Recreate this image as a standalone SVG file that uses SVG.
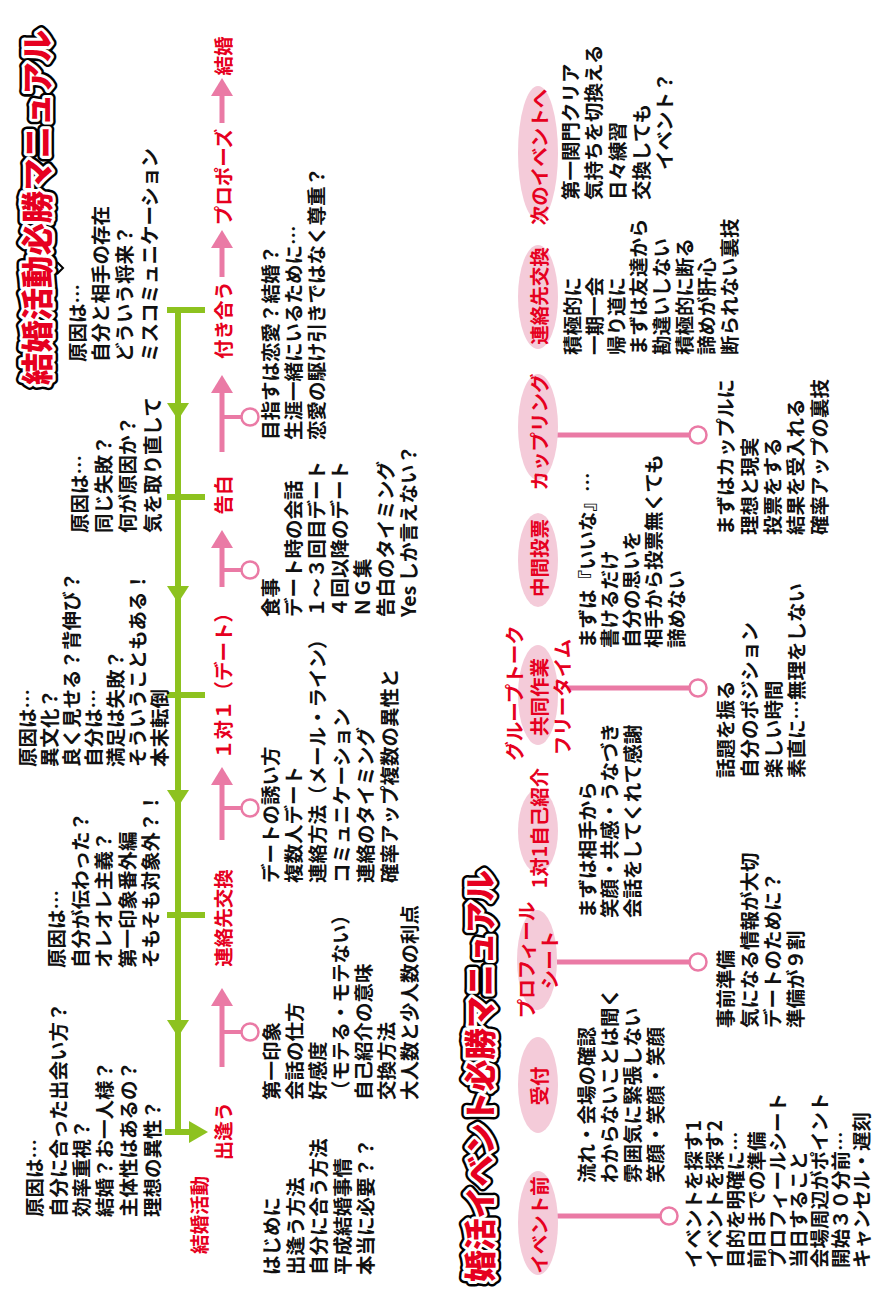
<svg xmlns="http://www.w3.org/2000/svg" width="884" height="1303" viewBox="0 0 884 1303">
<style>
.t{font-family:"Noto Sans CJK JP","Noto Sans",sans-serif;font-size:19.5px;font-weight:700;fill:#111;dominant-baseline:central}
.r{fill:#e60020}
.m{text-anchor:middle}
.ttl{font-family:"Noto Sans CJK JP","Noto Sans",sans-serif;font-size:32px;font-weight:900;dominant-baseline:central}
.o1{fill:#000;stroke:#000;stroke-width:11;stroke-linejoin:round}
.o2{fill:#fff;stroke:#fff;stroke-width:6;stroke-linejoin:round}
.o3{fill:#e60020}
.g{stroke:#8dc21f;stroke-width:6;fill:none}
.gh{fill:#8dc21f}
.p{stroke:#ea7aa5;stroke-width:5;fill:none}
.pb{stroke:#ea7aa5;stroke-width:4;fill:none}
.ph{fill:#ea7aa5}
.c{fill:#fff;stroke:#ea7aa5;stroke-width:2.5}
.e{fill:#f4cbd9}
</style>
<defs>
<text id="title1" class="ttl" x="918" y="35" textLength="355" lengthAdjust="spacingAndGlyphs">結婚活動必勝マニュアル</text>
<text id="title2" class="ttl" x="21" y="478" textLength="412" lengthAdjust="spacingAndGlyphs">婚活イベント必勝マニュアル</text>
</defs>
<rect width="884" height="1303" fill="#fff"/>
<g transform="translate(0,1303) rotate(-90)">

<g id="title-main">
<use href="#title1" class="o1"/><use href="#title1" class="o2"/><use href="#title1" class="o3"/>
<path d="M1041,57 L1035,63 L1029,57" fill="none" stroke="#000" stroke-width="2"/>
</g>
<g id="title-event">
<use href="#title2" class="o1"/><use href="#title2" class="o2"/><use href="#title2" class="o3"/>
</g>

<g id="connectors">
<path class="g" d="M993,178 L171,178 M171,165 L171,192 M993,167 L993,205 M806,167 L806,205 M608,167 L608,205 M388,167 L388,205"/>
<polygon class="gh" points="171,208 160,189 182,189"/>
<polygon class="gh" points="883,178 900,167 900,189"/>
<polygon class="gh" points="700,178 717,167 717,189"/>
<polygon class="gh" points="496,178 513,167 513,189"/>
<polygon class="gh" points="266,178 283,167 283,189"/>
<path class="p" d="M1180,222 L1209,222 M1026,222 L1057,222 M851,222 L912,222 M716,222 L757,222 M463,222 L520,222 M236,222 L299,222"/>
<polygon class="ph" points="1225,222 1207,211 1207,233"/>
<polygon class="ph" points="1073,222 1055,211 1055,233"/>
<polygon class="ph" points="928,222 910,211 910,233"/>
<polygon class="ph" points="773,222 755,211 755,233"/>
<polygon class="ph" points="536,222 518,211 518,233"/>
<polygon class="ph" points="315,222 297,211 297,233"/>
<path class="pb" d="M886,222 L886,242 M733,222 L733,242 M495,222 L495,242 M271,222 L271,242"/>
<circle class="c" cx="886" cy="250" r="8.5"/>
<circle class="c" cx="733" cy="250" r="8.5"/>
<circle class="c" cx="495" cy="250" r="8.5"/>
<circle class="c" cx="271" cy="250" r="8.5"/>
<path class="p" d="M87,557 L87,661 M341,557 L341,690 M615,567 L615,690 M868,557 L868,690"/>
<circle class="c" cx="87" cy="669" r="8.5"/>
<circle class="c" cx="341" cy="698" r="8.5"/>
<circle class="c" cx="615" cy="698" r="8.5"/>
<circle class="c" cx="868" cy="698" r="8.5"/>
</g>

<g id="n-start">
<text class="t r m" x="88" y="198">結婚活動</text>
<text class="t" x="86" y="33">原因は…</text>
<text class="t" x="86" y="57">自分に合った出会い方？</text>
<text class="t" x="86" y="80">効率重視？</text>
<text class="t" x="86" y="103">結婚？お一人様？</text>
<text class="t" x="86" y="127">主体性はあるの？</text>
<text class="t" x="86" y="151">理想の異性？</text>
<text class="t" x="28" y="270">はじめに</text>
<text class="t" x="28" y="294">出逢う方法</text>
<text class="t" x="28" y="317">自分に合う方法</text>
<text class="t" x="28" y="341">平成結婚事情</text>
<text class="t" x="28" y="364">本当に必要？？</text>
</g>

<g id="n-deau">
<text class="t r m" x="172" y="222">出逢う</text>
<text class="t" x="203" y="270">第一印象</text>
<text class="t" x="203" y="293">会話の仕方</text>
<text class="t" x="203" y="316">好感度</text>
<text class="t" x="203" y="339">（モテる・モテない）</text>
<text class="t" x="203" y="362">自己紹介の意味</text>
<text class="t" x="203" y="385">交換方法</text>
<text class="t" x="203" y="408">大人数と少人数の利点</text>
</g>

<g id="n-renraku">
<text class="t r m" x="385" y="222">連絡先交換</text>
<text class="t" x="335" y="55">原因は…</text>
<text class="t" x="335" y="79">自分が伝わった？</text>
<text class="t" x="335" y="102">オレオレ主義？</text>
<text class="t" x="335" y="126">第一印象番外編</text>
<text class="t" x="335" y="149">そもそも対象外？！</text>
<text class="t" x="420" y="269">デートの誘い方</text>
<text class="t" x="420" y="292">複数人デート</text>
<text class="t" x="420" y="316">連絡方法（メール・ライン）</text>
<text class="t" x="420" y="340">コミュニケーション</text>
<text class="t" x="420" y="364">連絡のタイミング</text>
<text class="t" x="420" y="388">確率アップ複数の異性と</text>
</g>

<g id="n-date">
<text class="t r m" x="622" y="222">１対１（デート）</text>
<text class="t" x="536" y="26">原因は…</text>
<text class="t" x="536" y="48">異文化？</text>
<text class="t" x="536" y="70">良く見せる？背伸び？</text>
<text class="t" x="536" y="92">自分は…</text>
<text class="t" x="536" y="114">満足は失敗？</text>
<text class="t" x="536" y="136">そういうこともある！</text>
<text class="t" x="536" y="158">本末転倒</text>
<text class="t" x="686" y="269">食事</text>
<text class="t" x="686" y="292">デート時の会話</text>
<text class="t" x="686" y="315">１～３回目デート</text>
<text class="t" x="686" y="338">４回以降のデート</text>
<text class="t" x="686" y="361">ＮＧ集</text>
<text class="t" x="686" y="384">告白のタイミング</text>
<text class="t" x="686" y="407">Yes しか言えない？</text>
</g>

<g id="n-kokuhaku">
<text class="t r m" x="808" y="222">告白</text>
<text class="t" x="770" y="78">原因は…</text>
<text class="t" x="770" y="102">同じ失敗？</text>
<text class="t" x="770" y="126">何が原因か？</text>
<text class="t" x="770" y="151">気を取り直して</text>
<text class="t" x="863" y="269">目指すは恋愛？結婚？</text>
<text class="t" x="863" y="292">生涯一緒にいるために…</text>
<text class="t" x="863" y="315">恋愛の駆け引きではなく尊重？</text>
</g>

<g id="n-tsukiau">
<text class="t r m" x="983" y="222">付き合う</text>
<text class="t" x="941" y="76">原因は…</text>
<text class="t" x="941" y="99">自分と相手の存在</text>
<text class="t" x="941" y="123">どういう将来？</text>
<text class="t" x="941" y="148">ミスコミュニケーション</text>
</g>

<g id="n-propose">
<text class="t r m" x="1126" y="222">プロポーズ</text>
</g>

<g id="n-kekkon">
<text class="t r m" x="1247" y="222">結婚</text>
</g>

<g id="e-mae">
<ellipse class="e" cx="80" cy="538" rx="52" ry="20"/>
<text class="t r m" x="78" y="538">イベント前</text>
<text class="t" x="35" y="692">イベントを探す1</text>
<text class="t" x="35" y="713">イベントを探す2</text>
<text class="t" x="35" y="734">目的を明確に…</text>
<text class="t" x="35" y="755">前日までの準備</text>
<text class="t" x="35" y="776">プロフィールシート</text>
<text class="t" x="35" y="797">当日すること</text>
<text class="t" x="35" y="818">会場周辺がポイント</text>
<text class="t" x="35" y="839">開始３０分前…</text>
<text class="t" x="35" y="860">キャンセル・遅刻</text>
</g>

<g id="e-uketsuke">
<ellipse class="e" cx="218" cy="538" rx="48" ry="20"/>
<text class="t r m" x="217" y="538">受付</text>
<text class="t" x="120" y="585">流れ・会場の確認</text>
<text class="t" x="120" y="608">わからないことは聞く</text>
<text class="t" x="120" y="631">雰囲気に緊張しない</text>
<text class="t" x="120" y="654">笑顔・笑顔・笑顔</text>
</g>

<g id="e-profile">
<ellipse class="e" cx="343" cy="537" rx="50" ry="20"/>
<text class="t r m" x="343" y="525">プロフィール</text>
<text class="t r m" x="343" y="548">シート</text>
<text class="t" x="275" y="724">事前準備</text>
<text class="t" x="275" y="748">気になる情報が大切</text>
<text class="t" x="275" y="771">デートのために？</text>
<text class="t" x="275" y="794">準備が９割</text>
</g>

<g id="e-jiko">
<ellipse class="e" cx="472" cy="538" rx="42" ry="20"/>
<text class="t r m" x="475" y="538">1対1自己紹介</text>
<text class="t" x="385" y="586">まずは相手から</text>
<text class="t" x="385" y="608">笑顔・共感・うなづき</text>
<text class="t" x="385" y="631">会話をしてくれて感謝</text>
</g>

<g id="e-group">
<ellipse class="e" cx="608" cy="538" rx="50" ry="20"/>
<text class="t r m" x="610" y="513">グループトーク</text>
<text class="t r m" x="606" y="538">共同作業</text>
<text class="t r m" x="606" y="561">フリータイム</text>
<text class="t" x="525" y="724">話題を振る</text>
<text class="t" x="525" y="748">自分のポジション</text>
<text class="t" x="525" y="772">楽しい時間</text>
<text class="t" x="525" y="795">素直に…無理をしない</text>
</g>

<g id="e-chukan">
<ellipse class="e" cx="743" cy="538" rx="47" ry="20"/>
<text class="t r m" x="745" y="538">中間投票</text>
<text class="t" x="655" y="586">まずは『いいな』…</text>
<text class="t" x="655" y="608">書けるだけ</text>
<text class="t" x="655" y="630">自分の思いを</text>
<text class="t" x="655" y="652">相手から投票無くても</text>
<text class="t" x="655" y="675">諦めない</text>
</g>

<g id="e-coupling">
<ellipse class="e" cx="876" cy="538" rx="53" ry="20"/>
<text class="t r m" x="871" y="538">カップリング</text>
<text class="t" x="768" y="724">まずはカップルに</text>
<text class="t" x="768" y="748">理想と現実</text>
<text class="t" x="768" y="771">投票をする</text>
<text class="t" x="768" y="794">結果を受入れる</text>
<text class="t" x="768" y="818">確率アップの裏技</text>
</g>

<g id="e-renraku">
<ellipse class="e" cx="1006" cy="538" rx="52" ry="20"/>
<text class="t r m" x="1007" y="538">連絡先交換</text>
<text class="t" x="948" y="571">積極的に</text>
<text class="t" x="948" y="593">一期一会</text>
<text class="t" x="948" y="615">帰り道に</text>
<text class="t" x="948" y="637">まずは友達から</text>
<text class="t" x="948" y="660">勘違いしない</text>
<text class="t" x="948" y="683">積極的に断る</text>
<text class="t" x="948" y="705">諦めが肝心</text>
<text class="t" x="948" y="728">断られない裏技</text>
</g>

<g id="e-next">
<ellipse class="e" cx="1150" cy="538" rx="67" ry="20"/>
<text class="t r m" x="1146" y="538">次のイベントへ</text>
<text class="t" x="1103" y="569">第一関門クリア</text>
<text class="t" x="1103" y="592">気持ちを切換える</text>
<text class="t" x="1103" y="616">日々練習</text>
<text class="t" x="1103" y="640">交換しても</text>
<text class="t" x="1133" y="663">イベント？</text>
</g>

</g>
</svg>
